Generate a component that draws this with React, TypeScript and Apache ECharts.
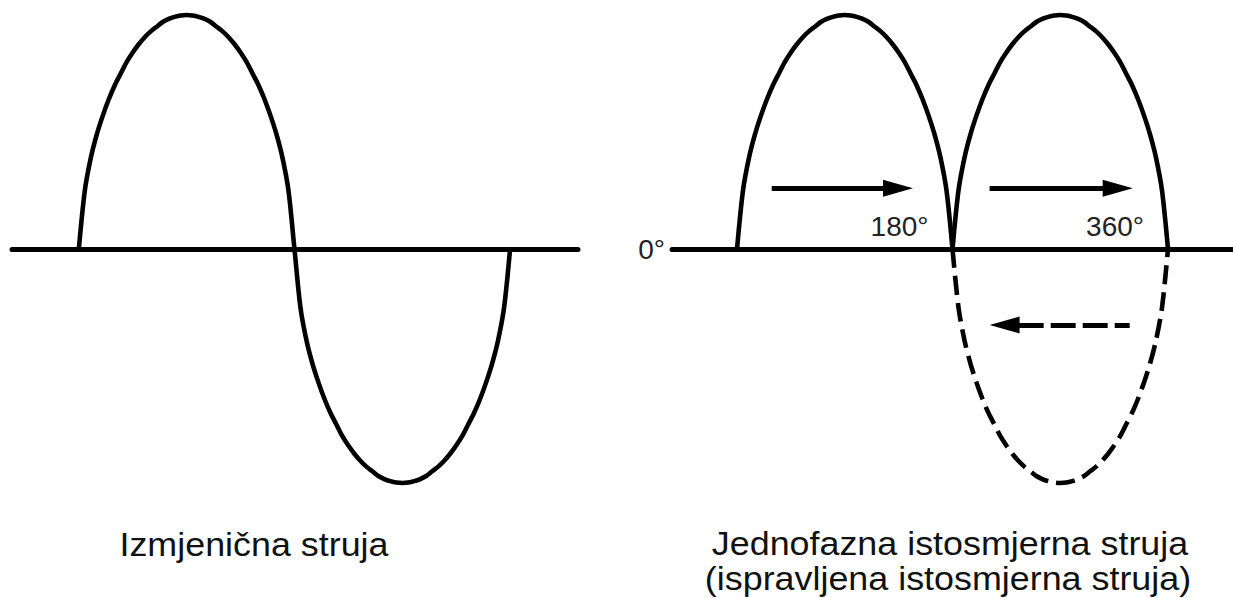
import React, { useEffect, useRef } from "react";
import * as echarts from "echarts";

// Phase angle samples (degrees)
const firstHalfDegrees = [0, 5, 10, 15, 20, 25, 30, 35, 40, 45, 50, 55, 60, 65, 70, 75, 80, 85, 90, 95, 100, 105, 110, 115, 120, 125, 130, 135, 140, 145, 150, 155, 160, 165, 170, 175, 180];
const secondHalfDegrees = [180, 185, 190, 195, 200, 205, 210, 215, 220, 225, 230, 235, 240, 245, 250, 255, 260, 265, 270, 275, 280, 285, 290, 295, 300, 305, 310, 315, 320, 325, 330, 335, 340, 345, 350, 355, 360];

// Alternating current (left panel), relative amplitude
const acPositiveHalf = [0, 0.25, 0.39, 0.49, 0.57, 0.64, 0.7, 0.75, 0.8, 0.84, 0.875, 0.905, 0.93, 0.95, 0.97, 0.983, 0.992, 0.998, 1, 0.998, 0.992, 0.983, 0.97, 0.95, 0.93, 0.905, 0.875, 0.84, 0.8, 0.75, 0.7, 0.64, 0.57, 0.49, 0.39, 0.25, 0];
const acNegativeHalf = [0, -0.25, -0.39, -0.49, -0.57, -0.64, -0.7, -0.75, -0.8, -0.84, -0.875, -0.905, -0.93, -0.95, -0.97, -0.983, -0.992, -0.998, -1, -0.998, -0.992, -0.983, -0.97, -0.95, -0.93, -0.905, -0.875, -0.84, -0.8, -0.75, -0.7, -0.64, -0.57, -0.49, -0.39, -0.25, 0];
// Rectified current (right panel)
const rectifiedFirst = [0, 0.25, 0.39, 0.49, 0.57, 0.64, 0.7, 0.75, 0.8, 0.84, 0.875, 0.905, 0.93, 0.95, 0.97, 0.983, 0.992, 0.998, 1, 0.998, 0.992, 0.983, 0.97, 0.95, 0.93, 0.905, 0.875, 0.84, 0.8, 0.75, 0.7, 0.64, 0.57, 0.49, 0.39, 0.25, 0];
const rectifiedSecond = [0, 0.25, 0.39, 0.49, 0.57, 0.64, 0.7, 0.75, 0.8, 0.84, 0.875, 0.905, 0.93, 0.95, 0.97, 0.983, 0.992, 0.998, 1, 0.998, 0.992, 0.983, 0.97, 0.95, 0.93, 0.905, 0.875, 0.84, 0.8, 0.75, 0.7, 0.64, 0.57, 0.49, 0.39, 0.25, 0];
const removedNegative = [0, -0.25, -0.39, -0.49, -0.57, -0.64, -0.7, -0.75, -0.8, -0.84, -0.875, -0.905, -0.93, -0.95, -0.97, -0.983, -0.992, -0.998, -1, -0.998, -0.992, -0.983, -0.97, -0.95, -0.93, -0.905, -0.875, -0.84, -0.8, -0.75, -0.7, -0.64, -0.57, -0.49, -0.39, -0.25, 0];

// Direction arrows: [fromDeg, toDeg, level]
const forwardArrows = [
  [29, 134.5, 0.26],
  [211, 318, 0.26],
];
const backwardArrow = [328, 223.5, -0.325];

// Labels
const degreeMarks = [180, 360];
const degreeLabels = ["180°", "360°"];
const originLabel = "0°";
const leftCaption = "Izmjenična struja";
const rightCaption = ["Jednofazna istosmjerna struja", "(ispravljena istosmjerna struja)"];

const FONT = "'Liberation Sans', Arial, Helvetica, sans-serif";

const pairs = (xs: number[], ys: number[]) => xs.map((x, i) => [x, ys[i]]);

export default function App() {
  const ref = useRef<HTMLDivElement>(null);
  useEffect(() => {
    if (!ref.current) return;
    const chart = echarts.init(ref.current, null, { renderer: "svg" });
    const curveStyle = { color: "#000", width: 4.6 };
    const axisCommon = {
      type: "value" as const,
      axisLine: { show: true, onZero: true, lineStyle: { color: "#000", width: 5 } },
      axisTick: { show: false },
      axisLabel: { show: false },
      splitLine: { show: false },
    };
    const captionStyle = { fontSize: 34, fontFamily: FONT, fill: "#111", align: "center", verticalAlign: "middle" };
    const acData = pairs(firstHalfDegrees, acPositiveHalf).concat(pairs(secondHalfDegrees, acNegativeHalf).slice(1));
    chart.setOption({
      animation: false,
      backgroundColor: "#fff",
      grid: [
        { left: 12, top: 15, width: 566, height: 468 },
        { left: 672, top: 15, width: 561, height: 468 },
      ],
      xAxis: [
        { ...axisCommon, gridIndex: 0, min: -55.8, max: 416.7 },
        {
          ...axisCommon,
          gridIndex: 1,
          min: -54.3,
          max: 414.3,
          name: originLabel,
          nameLocation: "start",
          nameGap: 7,
          nameTextStyle: { fontSize: 28, color: "#222", fontFamily: FONT },
        },
      ],
      yAxis: [
        { type: "value", gridIndex: 0, min: -1, max: 1, show: false },
        { type: "value", gridIndex: 1, min: -1, max: 1, show: false },
      ],
      series: [
        {
          type: "line",
          xAxisIndex: 0,
          yAxisIndex: 0,
          data: acData,
          smooth: 0.3,
          showSymbol: false,
          clip: false,
          lineStyle: curveStyle,
        },
        {
          type: "line",
          xAxisIndex: 1,
          yAxisIndex: 1,
          data: pairs(firstHalfDegrees, rectifiedFirst),
          smooth: 0.3,
          showSymbol: false,
          clip: false,
          lineStyle: curveStyle,
          markLine: {
            silent: true,
            symbol: ["none", "triangle"],
            symbolSize: [17, 30],
            label: { show: false },
            lineStyle: { color: "#000", width: 5, type: "solid" },
            data: forwardArrows.map((a) => [{ coord: [a[0], a[2]] }, { coord: [a[1], a[2]] }]),
          },
          markPoint: {
            silent: true,
            symbolSize: 0,
            label: {
              show: true,
              position: "left",
              distance: 24,
              offset: [0, -23],
              fontSize: 28,
              color: "#222",
              fontFamily: FONT,
              formatter: (p: any) => p.name,
            },
            data: degreeMarks.map((d, i) => ({ name: degreeLabels[i], coord: [d, 0] })),
          },
        },
        {
          type: "line",
          xAxisIndex: 1,
          yAxisIndex: 1,
          data: pairs(secondHalfDegrees, rectifiedSecond),
          smooth: 0.3,
          showSymbol: false,
          clip: false,
          lineStyle: curveStyle,
        },
        {
          type: "line",
          xAxisIndex: 1,
          yAxisIndex: 1,
          data: pairs(secondHalfDegrees, removedNegative),
          smooth: 0.3,
          showSymbol: false,
          clip: false,
          lineStyle: { color: "#000", width: 4.6, type: [19, 8] },
          markLine: {
            silent: true,
            symbol: ["none", "triangle"],
            symbolSize: [17, 30],
            label: { show: false },
            lineStyle: { color: "#000", width: 5, type: [25, 7], dashOffset: 10 },
            data: [[{ coord: [backwardArrow[0], backwardArrow[2]] }, { coord: [backwardArrow[1], backwardArrow[2]] }]],
          },
        },
      ],
      graphic: [
        { type: "text", x: 254, y: 544, scaleX: 1.055, style: { ...captionStyle, text: leftCaption } },
        { type: "text", x: 950, y: 543, scaleX: 1.055, style: { ...captionStyle, text: rightCaption[0] } },
        { type: "text", x: 948, y: 578, scaleX: 1.055, style: { ...captionStyle, text: rightCaption[1] } },
      ],
    });
    return () => chart.dispose();
  }, []);
  return (
    <div
      ref={ref}
      style={{ position: "fixed", left: 0, top: 0, width: 1233, height: 598, background: "#fff" }}
    />
  );
}
